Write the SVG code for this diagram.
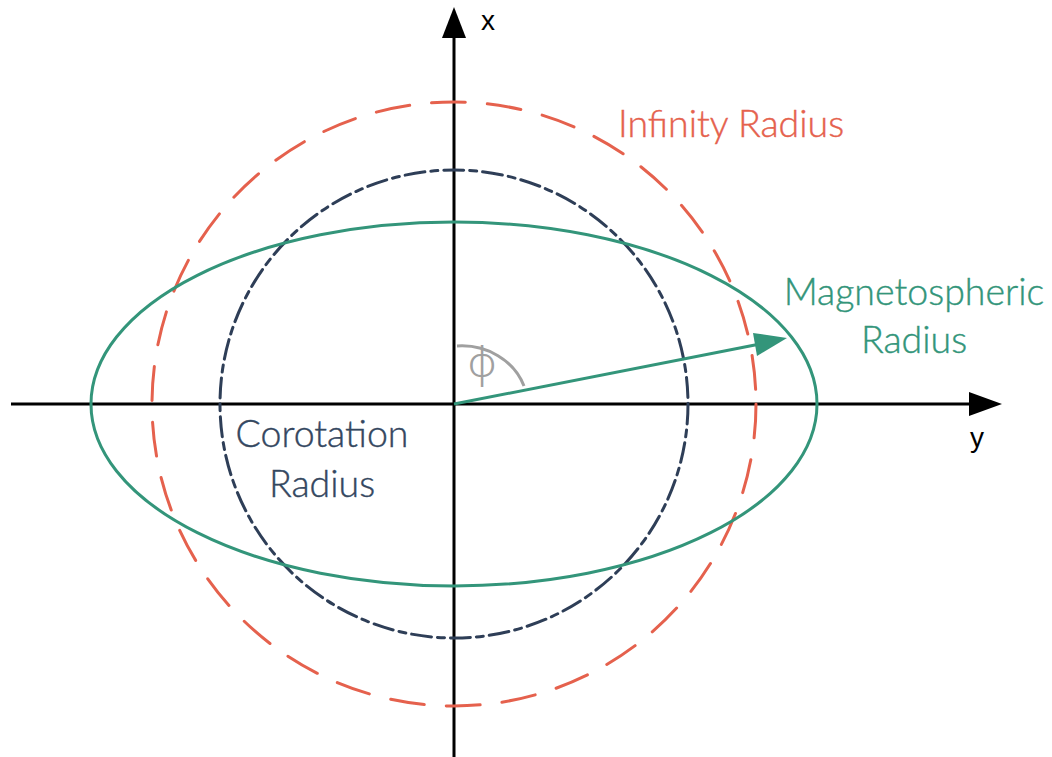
<svg xmlns="http://www.w3.org/2000/svg" width="1052" height="757" viewBox="0 0 1052 757">
<style>
.axis{stroke:#000;stroke-width:3;fill:none}
.lbl{font-family:Lato,"Noto Sans",sans-serif;font-size:37.5px;font-weight:300;stroke-width:0.4}
.ax{font-family:"Liberation Sans",Arial,sans-serif;font-size:28px;fill:#000}
</style>
<rect width="1052" height="757" fill="#fff"/>
<g id="connectors">
<line class="axis" x1="11" y1="404" x2="972" y2="404"/>
<polygon points="1002,404 969,392 969,416" fill="#000"/>
<line class="axis" x1="454" y1="757" x2="454" y2="36"/>
<polygon points="454,7 442,38 466,38" fill="#000"/>
</g>
<g id="infinity">
<circle cx="454" cy="404" r="302" fill="none" stroke="#E5614D" stroke-width="3" stroke-dasharray="34 22" stroke-linecap="round"/>
<text class="lbl" x="618" y="137" fill="#E5614D" stroke="#E5614D">Infinity Radius</text>
</g>
<g id="corotation">
<circle cx="454" cy="404" r="234" fill="none" stroke="#2E3E57" stroke-width="3" stroke-dasharray="20 6 7 6" stroke-linecap="round"/>
<text class="lbl" x="322" y="447" fill="#34475F" stroke="#34475F" text-anchor="middle">Corotation</text>
<text class="lbl" x="322" y="497" fill="#34475F" stroke="#34475F" text-anchor="middle">Radius</text>
</g>
<g id="magnetospheric">
<ellipse cx="454" cy="404" rx="363" ry="182" fill="none" stroke="#33957A" stroke-width="3"/>
<line x1="454" y1="404" x2="760" y2="344" stroke="#33957A" stroke-width="3"/>
<polygon points="787,338 753,333 757,356" fill="#33957A"/>
<text class="lbl" x="914" y="305" fill="#33957A" stroke="#33957A" text-anchor="middle">Magnetospheric</text>
<text class="lbl" x="914" y="353" fill="#33957A" stroke="#33957A" text-anchor="middle">Radius</text>
</g>
<g id="angle">
<path d="M457 346 A 66 60 0 0 1 524 386" fill="none" stroke="#A0A0A0" stroke-width="3"/>
<text x="482" y="377" fill="#A0A0A0" font-family="'Noto Sans','DejaVu Sans',sans-serif" font-weight="300" font-size="42" text-anchor="middle">ϕ</text>
</g>
<g id="axis-labels">
<text class="ax" x="481" y="30">x</text>
<text class="ax" x="970" y="447">y</text>
</g>
</svg>
